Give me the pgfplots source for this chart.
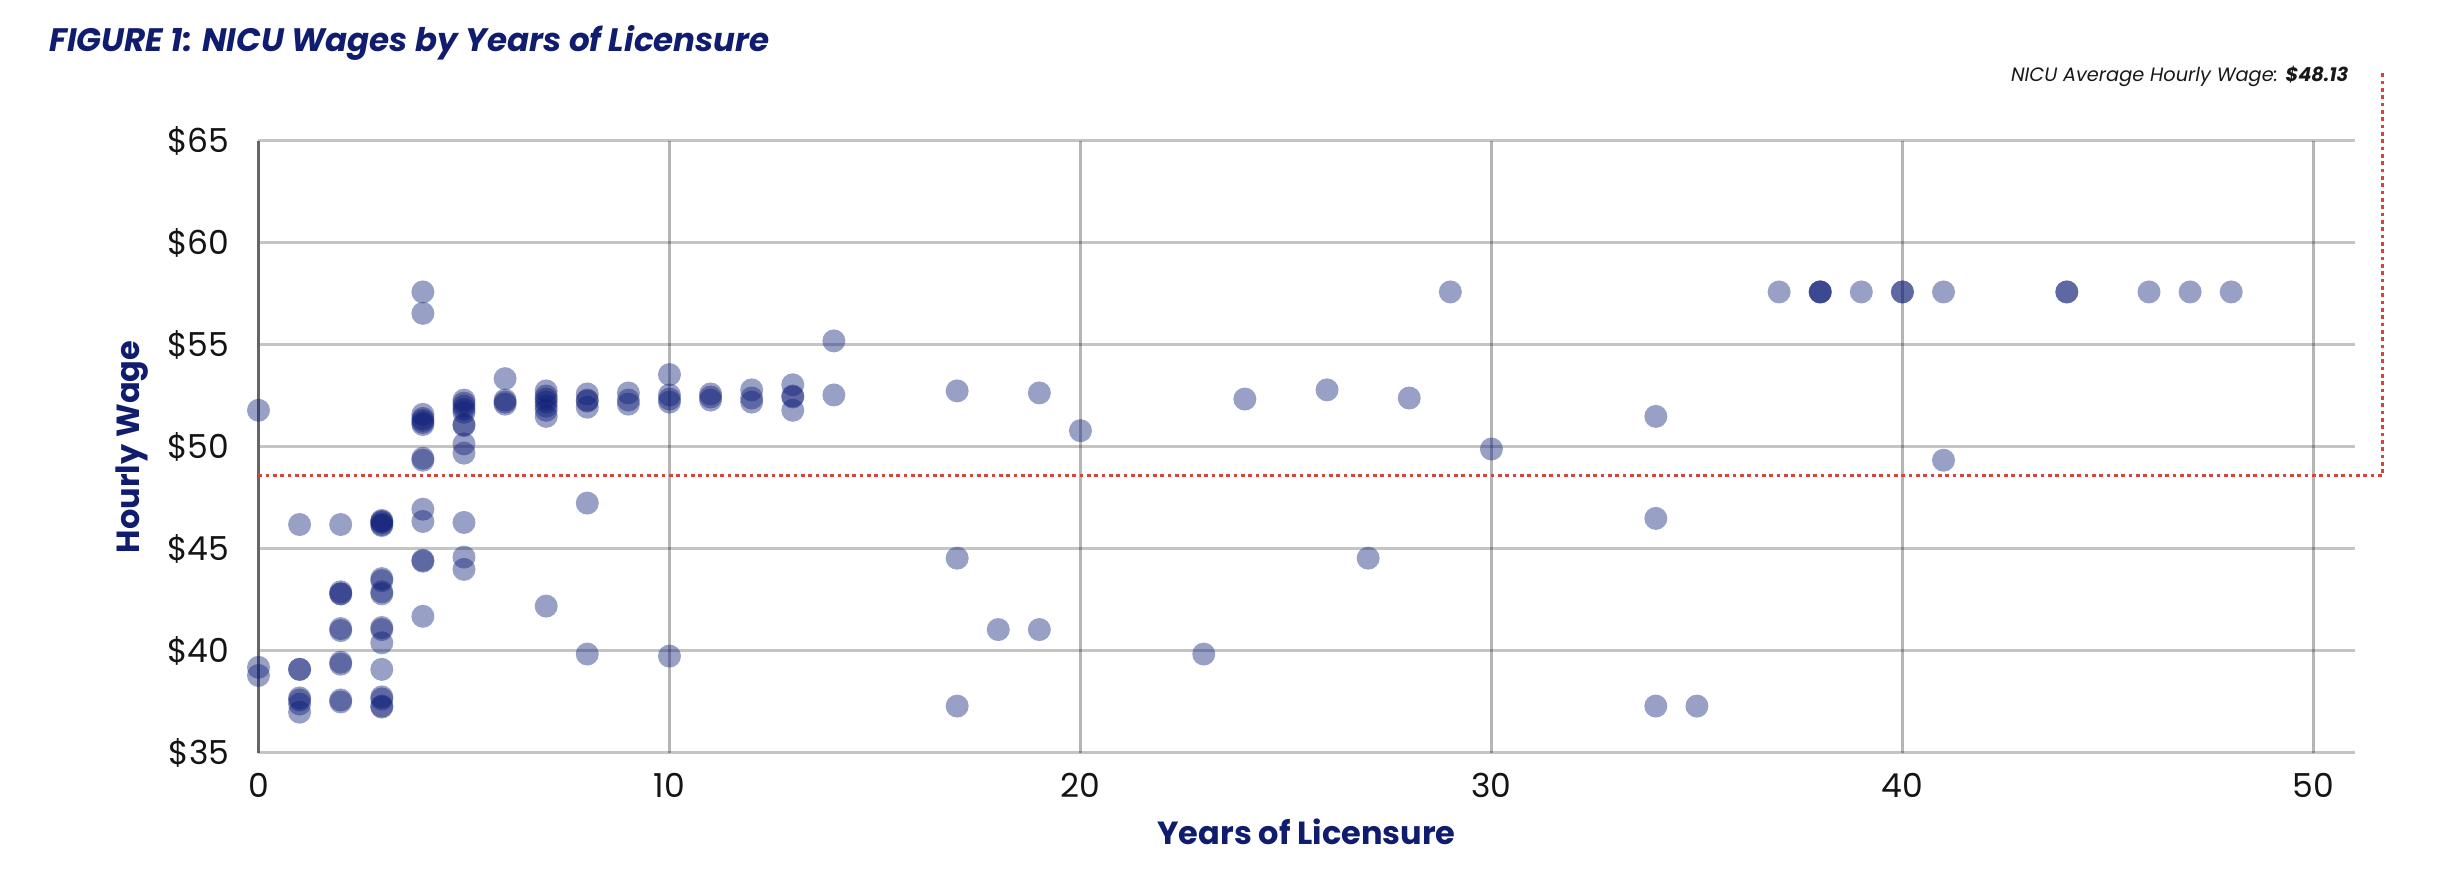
\documentclass[border=0pt]{standalone}
\usepackage{pgfplots}
\pgfplotsset{compat=1.18}
\usepackage{fontspec}
\setmainfont{Poppins}
\definecolor{navy}{RGB}{12,28,118}
\definecolor{titlenavy}{RGB}{16,28,110}
\definecolor{avgred}{RGB}{212,70,60}
\begin{document}
\begin{tikzpicture}
\useasboundingbox (-77.55pt,-41.1pt) rectangle (654.45pt,225.9pt);
\begin{axis}[
  at={(0,0)}, anchor=south west,
  scale only axis, width=628.8pt, height=183.6pt,
  xmin=0, xmax=51, ymin=35, ymax=65,
  axis lines=left, axis line style={-},
  x axis line style={draw=none},
  y axis line style={draw=black!60, line width=0.85pt},
  xtick={0,10,...,50}, ytick={35,40,...,65},
  major tick length=0pt,
  xmajorgrids, ymajorgrids,
  x grid style={black, opacity=0.29, line width=0.9pt},
  y grid style={black, opacity=0.23, line width=0.9pt},
  /pgf/number format/assume math mode=true,
  yticklabel={\$\pgfmathprintnumber{\tick}},
  ticklabel style={font=\fontsize{9.9pt}{12pt}\selectfont, text=black!92},
  xticklabel style={anchor=center, inner sep=0pt, yshift=-9.6pt},
  yticklabel style={anchor=east, inner sep=0pt, xshift=-8.55pt},
  clip=false,
]
\addplot[avgred, line width=1.1pt, dash pattern=on 1.1pt off 1.1pt, no marks]
  coordinates {(0,48.6) (51.68,48.6) (51.68,68.33)};
\addplot[only marks, mark=*, mark size=3.45pt,
  mark options={solid, draw=navy, draw opacity=0, line width=0pt, fill=navy, fill opacity=0.42}] table {
x y
0 51.8
0 39.2
0 38.8
1 46.2
1 39.1
1 39.1
1 37.7
1 37.6
1 37.4
1 37.0
2 46.2
2 42.9
2 42.8
2 42.8
2 41.1
2 41.0
2 39.45
2 39.35
2 37.6
2 37.5
3 46.4
3 46.35
3 46.3
3 46.2
3 46.15
3 43.55
3 43.45
3 42.9
3 42.8
3 41.15
3 41.05
3 40.4
3 39.1
3 37.75
3 37.65
3 37.3
3 37.25
4 57.6
4 56.55
4 51.6
4 51.4
4 51.3
4 51.2
4 51.1
4 49.45
4 49.35
4 46.95
4 46.35
4 44.45
4 44.4
4 41.7
5 52.3
5 52.15
5 52.0
5 51.85
5 51.7
5 51.1
5 51.05
5 50.15
5 49.7
5 46.3
5 44.6
5 44.0
6 53.35
6 52.3
6 52.2
6 52.1
7 52.75
7 52.5
7 52.35
7 52.2
7 52.0
7 51.8
7 51.5
7 42.2
8 52.6
8 52.3
8 52.25
8 51.95
8 47.25
8 39.85
9 52.65
9 52.3
9 52.1
10 53.55
10 52.55
10 52.35
10 52.2
10 39.75
11 52.6
11 52.45
11 52.3
12 52.8
12 52.4
12 52.2
13 53.05
13 52.5
13 52.45
13 51.8
14 55.2
14 52.55
17 52.75
17 44.55
17 37.3
18 41.05
19 52.65
19 41.05
20 50.8
23 39.85
24 52.35
26 52.8
27 44.55
28 52.4
29 57.6
30 49.9
34 51.5
34 46.5
34 37.3
35 37.3
37 57.6
38 57.6
38 57.6
38 57.6
39 57.6
40 57.6
40 57.6
41 57.6
41 49.35
44 57.6
44 57.6
46 57.6
47 57.6
48 57.6
};
\end{axis}
\node[anchor=base west, inner sep=0pt, text=titlenavy, font=\fontsize{9.75pt}{11pt}\selectfont\bfseries\itshape]
  at (-62.9pt,210.4pt) {FIGURE 1: NICU Wages by Years of Licensure};
\node[anchor=base east, inner sep=0pt, text=black!90, font=\fontsize{5.8pt}{7pt}\selectfont\itshape]
  at (627.15pt,201.4pt) {NICU Average Hourly Wage: \textbf{\$48.13}};
\node[anchor=base, inner sep=0pt, text=titlenavy, font=\fontsize{9.6pt}{11pt}\selectfont\bfseries]
  at (314.4pt,-27.6pt) {Years of Licensure};
\node[anchor=base, rotate=90, inner sep=0pt, text=titlenavy, font=\fontsize{9.6pt}{11pt}\selectfont\bfseries]
  at (-35.55pt,91.8pt) {Hourly Wage};
\end{tikzpicture}
\end{document}
